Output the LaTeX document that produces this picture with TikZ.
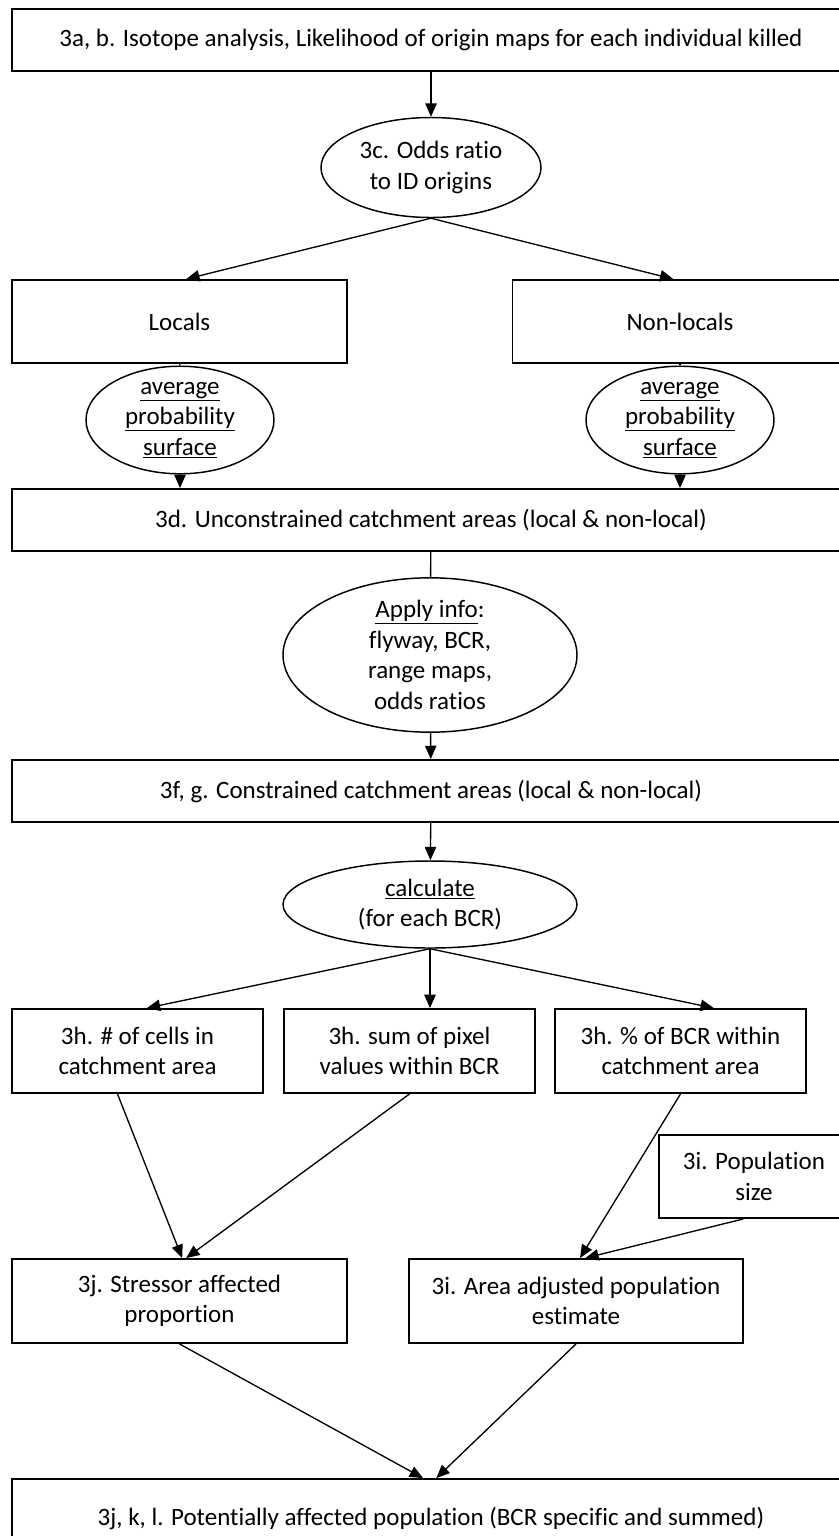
\documentclass[tikz,border=0pt]{standalone}
\usepackage{fontspec}
\setmainfont[Ligatures=NoCommon]{Carlito}
\usetikzlibrary{arrows.meta,shapes.geometric}

\tikzset{every picture/.style={line width=1pt}}
\tikzset{
	box/.style={draw, rectangle, line width=1.4pt, align=center, inner sep=0pt, font=\fontsize{18.75}{22.9}\selectfont},
	oval/.style={draw, ellipse, line width=1.1pt, align=center, inner sep=0pt, font=\fontsize{18.75}{22.9}\selectfont},
	flow/.style={-{Triangle[length=10pt,width=8.5pt]}}}

\begin{document}
\begin{tikzpicture}[x=0.75pt,y=0.75pt,yscale=-1,xscale=1]
	\useasboundingbox (0,0) rectangle (839,1536);
	\clip (0,0) rectangle (839,1536);

	%Shape: Rectangle [top]
	\node[box, minimum width=628.5pt, minimum height=46.5pt] (iso) at (431,40) {3a, b. Isotope analysis, Likelihood of origin maps for each individual killed};
	%Shape: Ellipse
	\node[oval, minimum width=165pt, minimum height=75pt] (odds) at (431,167.5) {3c. Odds ratio\\to ID origins};
	%Shape: Rectangle [locals]
	\node[box, minimum width=251.25pt, minimum height=62.25pt] (loc) at (179.5,321.5) {Locals};
	\node[box, minimum width=251.25pt, minimum height=62.25pt] (nonloc) at (680,321.5) {Non-locals};
	%Shape: Ellipse [average]
	\node[oval, minimum width=141pt, minimum height=70.5pt] (avgl) at (180,420) {\underline{average}\\\underline{probability}\\\underline{surface}};
	\node[oval, minimum width=141pt, minimum height=70.5pt] (avgn) at (680,420) {\underline{average}\\\underline{probability}\\\underline{surface}};
	%Shape: Rectangle [unconstrained]
	\node[box, minimum width=628.5pt, minimum height=46.5pt] (uncon) at (431,520) {3d. Unconstrained catchment areas (local \& non-local)};
	%Shape: Ellipse
	\node[oval, minimum width=220.5pt, minimum height=109.5pt] (apply) at (430,655) {\underline{Apply info}:\\flyway, BCR,\\range maps,\\odds ratios};
	%Shape: Rectangle [constrained]
	\node[box, minimum width=628.5pt, minimum height=46.5pt] (con) at (431,791) {3f, g. Constrained catchment areas (local \& non-local)};
	%Shape: Ellipse
	\node[oval, minimum width=220.5pt, minimum height=65.25pt] (calc) at (430,904.5) {\underline{calculate}\\(for each BCR)};
	%Shape: Rectangle [3h]
	\node[box, minimum width=188.25pt, minimum height=63pt] (cells) at (137.5,1051) {3h. \# of cells in\\catchment area};
	\node[box, minimum width=188.25pt, minimum height=63pt] (pixel) at (409.5,1051) {3h. sum of pixel\\values within BCR};
	\node[box, minimum width=188.25pt, minimum height=63pt] (pct) at (680.5,1051) {3h. \% of BCR within\\catchment area};
	%Shape: Rectangle [population]
	\node[box, minimum width=142.5pt, minimum height=62.25pt] (pop) at (754,1176.5) {3i. Population\\size};
	%Shape: Rectangle [3j, 3i]
	\node[box, minimum width=251.25pt, minimum height=63pt] (stress) at (179.5,1301) {3j. Stressor affected\\proportion};
	\node[box, minimum width=250.5pt, minimum height=63pt] (adj) at (576,1301) {3i. Area adjusted population\\estimate};
	%Shape: Rectangle [bottom]
	\node[box, minimum width=628.5pt, minimum height=58.5pt] (pot) at (431,1518) {3j, k, l. Potentially affected population (BCR specific and summed)};

	%Straight Lines
	\draw[flow] (iso) -- (odds);
	\draw[flow] (odds.south) -- ([xshift=5pt]loc.north);
	\draw[flow] (odds.south) -- ([xshift=-5pt]nonloc.north);
	\draw (loc) -- (avgl);
	\draw (nonloc) -- (avgn);
	\draw[flow] (avgl.south) -- (avgl.south |- uncon.north);
	\draw[flow] (avgn.south) -- (avgn.south |- uncon.north);
	\draw (uncon) -- (apply);
	\draw[flow] (apply) -- (con);
	\draw[flow] (con) -- (calc);
	\draw[flow] (calc.south) -- ([xshift=7pt]cells.north);
	\draw[flow] (calc.south) -- (calc.south |- pixel.north);
	\draw[flow] (calc.south) -- ([xshift=25pt]pct.north);
	\draw[flow] ([xshift=-15pt]cells.south) -- ([xshift=2pt]stress.north);
	\draw[flow] (pixel.south) -- ([xshift=5pt]stress.north);
	\draw[flow] (pct.south) -- ([xshift=3pt]adj.north);
	\draw[flow] ([xshift=-8pt]pop.south) -- ([xshift=7pt]adj.north);
	\draw[flow] (stress.south) -- ([xshift=-6pt]pot.north);
	\draw[flow] (adj.south) -- ([xshift=4pt]pot.north);
\end{tikzpicture}
\end{document}
